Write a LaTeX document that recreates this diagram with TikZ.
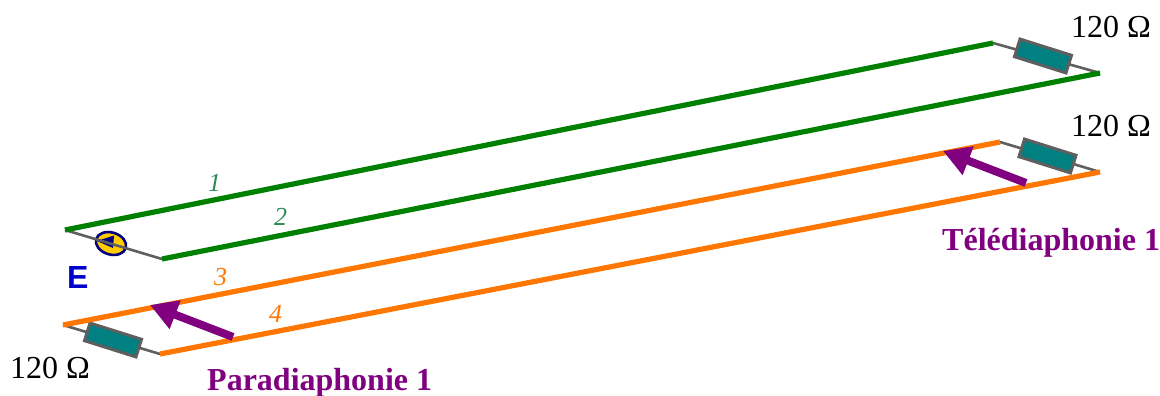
\documentclass[tikz,border=0pt]{standalone}
\usepackage{fontspec}
\setmainfont{Liberation Serif}
\newfontfamily\sansf{Liberation Sans}
\usetikzlibrary{arrows.meta,shapes.geometric}
\definecolor{wgreen}{RGB}{0,128,0}
\definecolor{worange}{RGB}{255,119,0}
\definecolor{wgray}{RGB}{95,95,95}
\definecolor{wteal}{RGB}{0,128,128}
\definecolor{wpurple}{RGB}{128,0,128}
\definecolor{lgreen}{RGB}{46,139,87}
\definecolor{wblue}{RGB}{0,0,205}
\definecolor{dblue}{RGB}{0,0,128}
\definecolor{wyellow}{RGB}{255,204,0}
\tikzset{
  x=1pt,y=-1pt,
  gwire/.style={draw=wgreen,line width=5.2pt},
  owire/.style={draw=worange,line width=5.2pt},
  lead/.style={draw=wgray,line width=2.6pt},
  resistor/.style={draw=wgray,fill=wteal,line width=3pt,rotate=-17.5,minimum width=54pt,minimum height=18.5pt,inner sep=0pt,outer sep=0pt},
  xarrow/.style={draw=wpurple,line width=8pt,-{Triangle[length=27pt,width=29pt]}},
  ohm/.style={inner sep=0pt,text=black,font=\fontsize{32}{32}\selectfont},
  numg/.style={inner sep=0pt,text=lgreen,font=\fontsize{26}{26}\selectfont\itshape},
  numo/.style={inner sep=0pt,text=worange,font=\fontsize{26}{26}\selectfont\itshape},
  title/.style={inner sep=0pt,text=wpurple,font=\fontsize{32}{32}\selectfont\bfseries},
}
\begin{document}
\begin{tikzpicture}
\useasboundingbox (0,0) rectangle (1160,396);
% wire ends
\coordinate (a1) at (65,230);  \coordinate (b1) at (993,43);
\coordinate (a2) at (162,259); \coordinate (b2) at (1100,73);
\coordinate (a3) at (63,325);  \coordinate (b3) at (1000,142);
\coordinate (a4) at (160,354); \coordinate (b4) at (1100,172);
% arrow ends
\coordinate (p0) at (233,337); \coordinate (p1) at (150,305);
\coordinate (t0) at (1026,183); \coordinate (t1) at (943,151);
% source
\node[ellipse,draw=dblue,fill=wyellow,line width=2.6pt,rotate=-17,minimum width=31pt,minimum height=22pt,inner sep=0pt] (src) at (111,243.5) {};
\fill[dblue] (97,241) -- (114,235.5) -- (113,248) -- cycle;
% leads
\draw[lead] (a1) -- (a2);
\draw[lead] (b1) -- (b2);
\draw[lead] (b3) -- (b4);
\draw[lead] (a3) -- (a4);
% resistors
\node[resistor] (r1) at (1043,56) {};
\node[resistor] (r2) at (1047.5,156) {};
\node[resistor] (r3) at (113,340) {};
% wires
\draw[gwire] (a1) -- (b1);
\draw[gwire] (a2) -- (b2);
\draw[owire] (a3) -- (b3);
\draw[owire] (a4) -- (b4);
% arrows
\draw[xarrow] (p0) -- (p1);
\draw[xarrow] (t0) -- (t1);
% labels
\node[ohm,anchor=base west] (o1) at (1071,38) {120 Ω};
\node[ohm,anchor=base west] (o2) at (1071,136) {120 Ω};
\node[ohm,anchor=base west] (o3) at (10,378) {120 Ω};
\node[numg,anchor=base west] (n1) at (208,191) {1};
\node[numg,anchor=base west] (n2) at (274,225) {2};
\node[numo,anchor=base west] (n3) at (214,285) {3};
\node[numo,anchor=base west] (n4) at (269,322) {4};
\node[inner sep=0pt,anchor=base west,text=wblue,font=\sansf\fontsize{32}{32}\selectfont\bfseries] (e) at (67,288) {E};
\node[title,anchor=base west] (tt) at (942,250) {Télédiaphonie 1};
\node[title,anchor=base west] (pp) at (207,390) {Paradiaphonie 1};
\end{tikzpicture}
\end{document}
